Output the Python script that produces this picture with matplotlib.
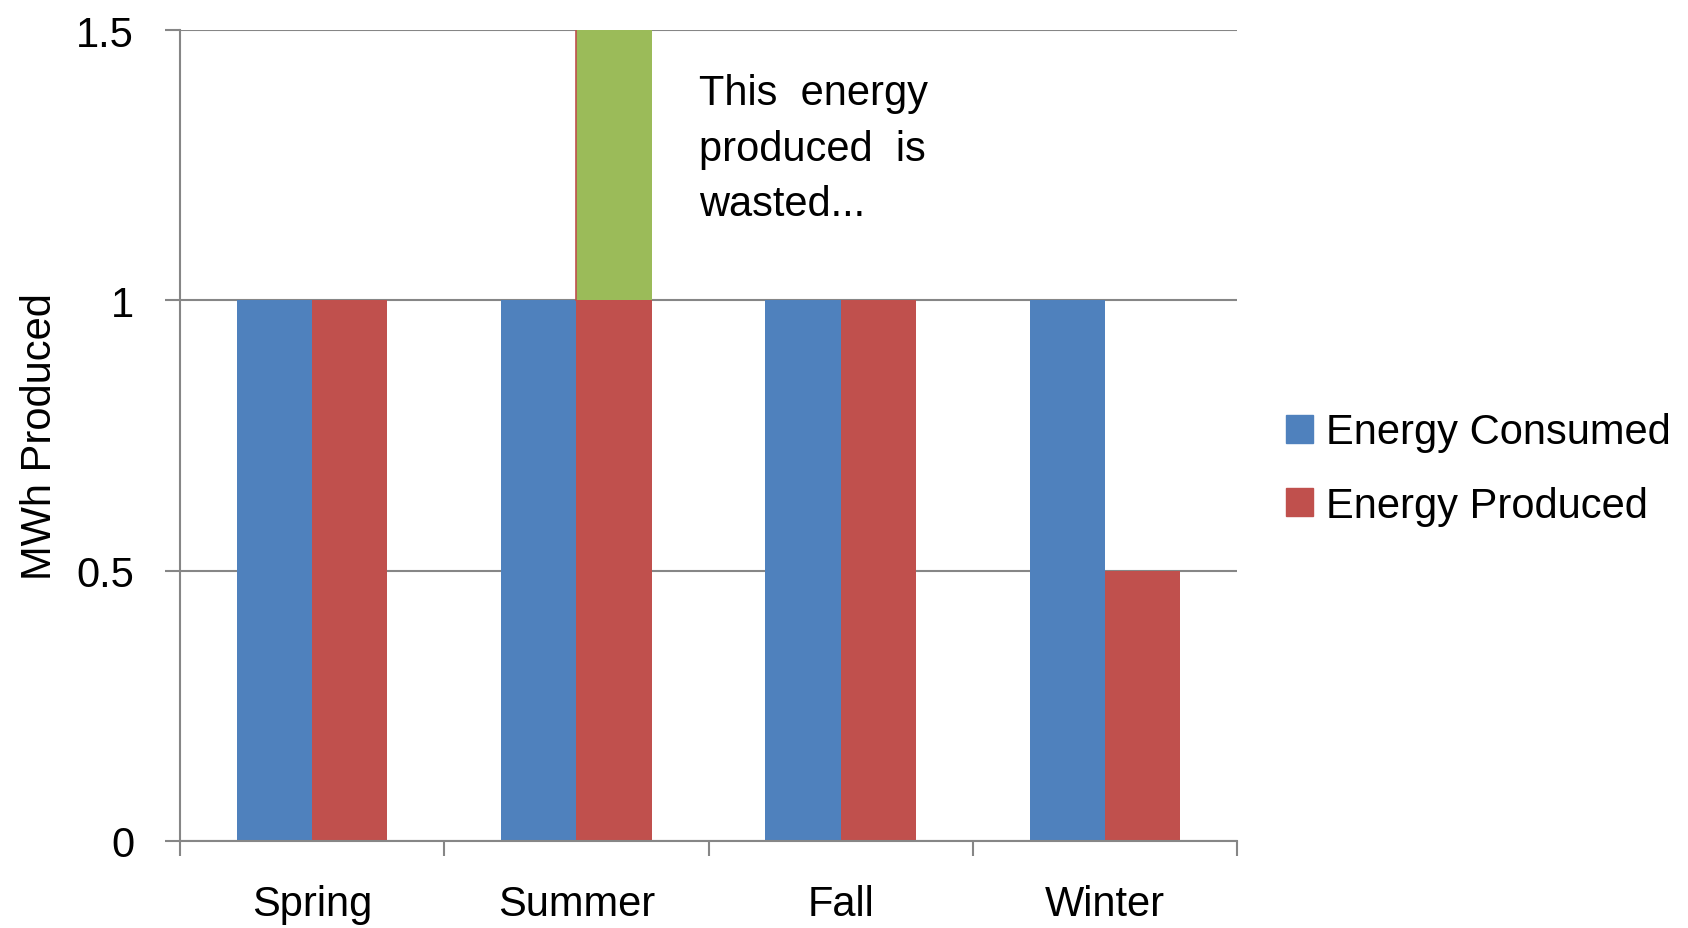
import numpy as np
import matplotlib
matplotlib.use('Agg')
import matplotlib.pyplot as plt
from matplotlib.patches import Patch

seasons = ['Spring', 'Summer', 'Fall', 'Winter']
consumed = [1.0, 1.0, 1.0, 1.0]
produced = [1.0, 1.5, 1.0, 0.5]
y_ticks = [0, 0.5, 1, 1.5]
y_tick_labels = ['0', '0.5', '1', '1.5']
note = 'This  energy\nproduced  is\nwasted...'

blue = '#4F81BD'
red = '#C0504D'
green = '#9BBB59'
grey = '#868686'

plt.rcParams['font.family'] = ['Liberation Sans', 'DejaVu Sans']
fs = 30

fig = plt.figure(figsize=(16.88, 9.29), dpi=100)
ax = fig.add_axes([180/1688, 1-842/929, 1057/1688, 811/929])

x = np.arange(len(seasons)) + 0.5
w = 0.285
cons = np.array(consumed)
prod = np.array(produced)
base = np.minimum(prod, cons)
surplus = np.clip(prod - cons, 0, None)

ax.bar(x - w/2, cons, w, color=blue, linewidth=0)
ax.bar(x + w/2, base, w, color=red, linewidth=0)
ax.bar(x + w/2, surplus, w, bottom=base, color=green, linewidth=0)
# thin red edge on the wasted part
for i in range(len(seasons)):
    if surplus[i] > 0:
        ax.plot([x[i], x[i]], [base[i], base[i] + surplus[i]], color=red, lw=1.2, zorder=3)

ax.set_xlim(0, len(seasons))
ax.set_ylim(0, 1.5)
ax.set_yticks(y_ticks)
ax.set_yticklabels(y_tick_labels, fontsize=fs)
ax.yaxis.grid(True, color=grey, lw=1.5)
ax.set_axisbelow(True)
ax.tick_params(axis='y', length=11, width=1.5, color=grey, pad=22)

ax.set_xticks(np.arange(len(seasons) + 1))
ax.set_xticklabels([])
ax.tick_params(axis='x', which='major', length=11, width=1.5, color=grey, direction='out')
ax.set_xticks(x, minor=True)
ax.set_xticklabels(seasons, minor=True, fontsize=fs)
ax.tick_params(axis='x', which='minor', length=0, pad=31)

for s in ['top', 'right']:
    ax.spines[s].set_visible(False)
for s in ['left', 'bottom']:
    ax.spines[s].set_color(grey)
    ax.spines[s].set_linewidth(1.5)

ax.set_ylabel('MWh Produced', fontsize=fs)
ax.yaxis.set_label_coords(-0.114, 0.5)

ax.text(1.964, 1.42, note, fontsize=fs, va='top', ha='left', linespacing=1.5)

handles = [Patch(color=blue), Patch(color=red)]
fig.legend(handles, ['Energy Consumed', 'Energy Produced'], loc='center left',
           bbox_to_anchor=(1286/1688, 1-470/929), frameon=False, fontsize=fs,
           borderpad=0, borderaxespad=0,
           handlelength=0.65, handleheight=0.65, handletextpad=0.3, labelspacing=0.8)

fig.savefig('out.png', dpi=100)
